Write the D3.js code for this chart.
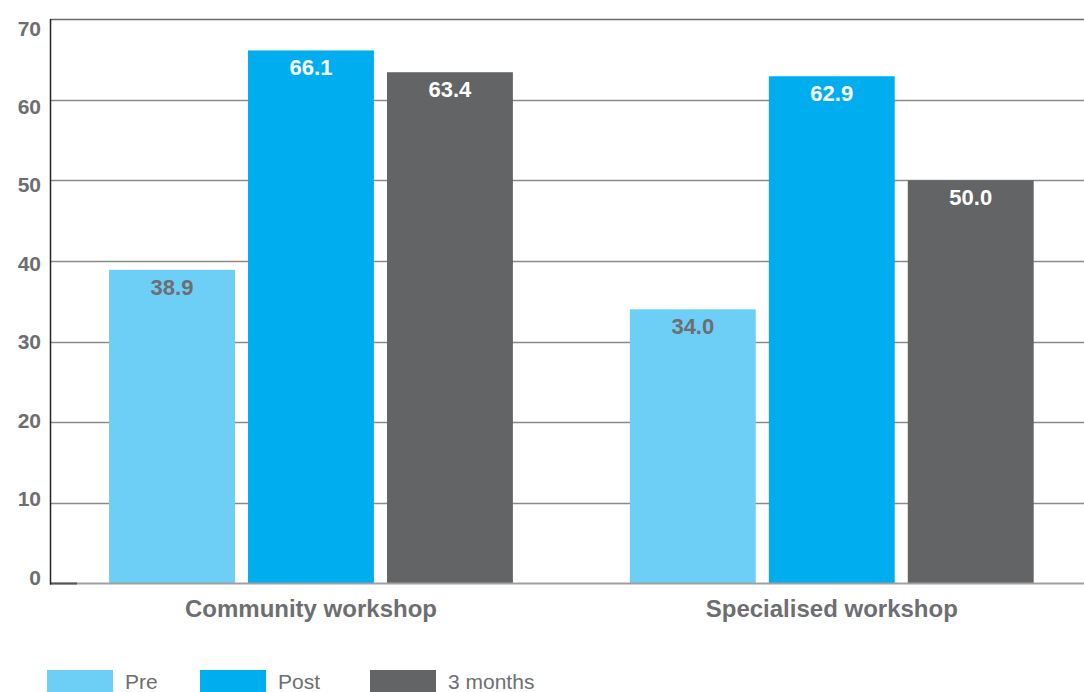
<!DOCTYPE html>
<html>
<head>
<meta charset="utf-8">
<script src="https://cdn.jsdelivr.net/npm/d3@7"></script>
<style>
  html, body { margin: 0; padding: 0; background: #fff; }
  svg { display: block; font-family: "Liberation Sans", Arial, Helvetica, sans-serif; }
</style>
</head>
<body>
<svg id="chart" width="1084" height="692"></svg>
<script>
// Workshop scores by stage
const categories = ["Community workshop", "Specialised workshop"];
const seriesNames = ["Pre", "Post", "3 months"];
const preValues = [38.9, 34.0];
const postValues = [66.1, 62.9];
const threeMonthValues = [63.4, 50.0];
const yTicks = [0, 10, 20, 30, 40, 50, 60, 70];

const colors = { "Pre": "#6dcff6", "Post": "#00aeef", "3 months": "#636466" };
const labelColors = { "Pre": "#6d6e71", "Post": "#ffffff", "3 months": "#ffffff" };
const textGray = "#6d6e71";

const rows = categories.map((c, i) => ({
  category: c,
  values: [
    { series: "Pre", value: preValues[i] },
    { series: "Post", value: postValues[i] },
    { series: "3 months", value: threeMonthValues[i] }
  ]
}));

const svg = d3.select("#chart");
const plotLeft = 50, plotTop = 19, plotBottom = 583.5, plotRight = 1084;

const y = d3.scaleLinear().domain([0, 70]).range([plotBottom, plotTop]);
// tick labels sit on a slightly compressed scale so 0 and 70 stay inside the frame
const yLabel = d3.scaleLinear().domain([0, 70]).range([577, 28]);

const x0 = d3.scaleBand().domain(categories).range([plotLeft, plotRight])
  .paddingInner(0.2246).paddingOuter(0.105).align(0.54);
const x1 = d3.scaleBand().domain(seriesNames)
  .range([0, x0.bandwidth()]).paddingInner(0.094).paddingOuter(0);

// gridlines
svg.append("g")
  .selectAll("line")
  .data(yTicks.filter(t => t > 0))
  .join("line")
  .attr("x1", plotLeft).attr("x2", plotRight)
  .attr("y1", d => Math.round(y(d)) + 0.5).attr("y2", d => Math.round(y(d)) + 0.5)
  .attr("stroke", d => d === 70 ? "#6a6a6a" : "#8a8a8a")
  .attr("stroke-width", 1.5);

// y axis tick labels
svg.append("g")
  .selectAll("text")
  .data(yTicks)
  .join("text")
  .attr("x", 41)
  .attr("y", d => yLabel(d))
  .attr("dy", "0.36em")
  .attr("text-anchor", "end")
  .attr("fill", textGray)
  .attr("font-size", 21)
  .attr("font-weight", "bold")
  .text(d3.format("d"));

// bars
const groups = svg.append("g")
  .selectAll("g")
  .data(rows)
  .join("g")
  .attr("transform", d => `translate(${x0(d.category)},0)`);

groups.selectAll("rect")
  .data(d => d.values)
  .join("rect")
  .attr("x", d => x1(d.series))
  .attr("width", x1.bandwidth())
  .attr("y", d => y(d.value))
  .attr("height", d => y(0) - y(d.value))
  .attr("fill", d => colors[d.series]);

groups.selectAll("text.value")
  .data(d => d.values)
  .join("text")
  .attr("class", "value")
  .attr("x", d => x1(d.series) + x1.bandwidth() / 2)
  .attr("y", d => y(d.value) + 25)
  .attr("text-anchor", "middle")
  .attr("font-size", 22)
  .attr("font-weight", "bold")
  .attr("fill", d => labelColors[d.series])
  .text(d => d.value.toFixed(1));

// axis lines
svg.append("line")
  .attr("x1", plotLeft).attr("x2", plotRight)
  .attr("y1", plotBottom).attr("y2", plotBottom)
  .attr("stroke", "#a0a0a0").attr("stroke-width", 2);
svg.append("line")
  .attr("x1", plotLeft).attr("x2", 77)
  .attr("y1", plotBottom).attr("y2", plotBottom)
  .attr("stroke", "#555").attr("stroke-width", 2);
svg.append("line")
  .attr("x1", plotLeft + 0.5).attr("x2", plotLeft + 0.5)
  .attr("y1", plotTop).attr("y2", plotBottom + 1)
  .attr("stroke", "#222").attr("stroke-width", 1.5);

// category labels
svg.append("g")
  .selectAll("text")
  .data(categories)
  .join("text")
  .attr("x", d => x0(d) + x0.bandwidth() / 2)
  .attr("y", 617)
  .attr("text-anchor", "middle")
  .attr("font-size", 24)
  .attr("font-weight", "bold")
  .attr("fill", textGray)
  .text(d => d);

// legend
const legendX = [47, 200, 370];
const legend = svg.append("g")
  .selectAll("g")
  .data(seriesNames)
  .join("g")
  .attr("transform", (d, i) => `translate(${legendX[i]},670)`);
legend.append("rect")
  .attr("width", 66).attr("height", 24)
  .attr("fill", d => colors[d]);
legend.append("text")
  .attr("x", 78).attr("y", 19)
  .attr("font-size", 21)
  .attr("fill", textGray)
  .text(d => d);
</script>
</body>
</html>
